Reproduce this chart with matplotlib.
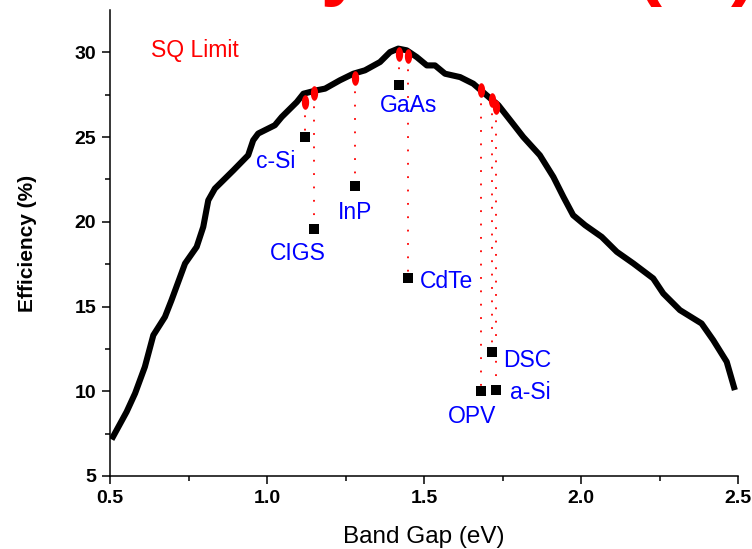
import numpy as np
import matplotlib
matplotlib.use("Agg")
import matplotlib.pyplot as plt
from matplotlib.path import Path

plt.rcParams['font.family'] = ['Liberation Sans', 'DejaVu Sans']

# Shockley-Queisser limit vs band gap
gap_curve = [0.505, 0.553, 0.580, 0.611, 0.638, 0.675, 0.696, 0.739, 0.776, 0.797,
             0.813, 0.834, 0.893, 0.940, 0.956, 0.972, 1.025, 1.047, 1.095, 1.116,
             1.158, 1.185, 1.232, 1.275, 1.312, 1.360, 1.392, 1.418, 1.445, 1.477,
             1.509, 1.535, 1.567, 1.615, 1.657, 1.700, 1.737, 1.779, 1.816, 1.869,
             1.912, 1.944, 1.975, 2.013, 2.066, 2.114, 2.167, 2.230, 2.262, 2.315,
             2.384, 2.421, 2.464, 2.490]
sq_curve = [7.16, 8.79, 9.88, 11.44, 13.31, 14.39, 15.38, 17.54, 18.52, 19.70,
            21.27, 21.96, 23.04, 23.93, 24.81, 25.21, 25.70, 26.19, 27.07, 27.56,
            27.76, 27.86, 28.35, 28.74, 28.94, 29.43, 30.02, 30.22, 30.12, 29.72,
            29.23, 29.23, 28.74, 28.54, 28.15, 27.46, 26.88, 25.89, 25.01, 23.93,
            22.65, 21.47, 20.39, 19.80, 19.11, 18.23, 17.54, 16.66, 15.77, 14.79,
            14.00, 13.02, 11.74, 10.07]

# Record cells
materials = ['c-Si', 'CIGS', 'InP', 'GaAs', 'CdTe', 'OPV', 'DSC', 'a-Si']
mat_gap = [1.12, 1.15, 1.28, 1.42, 1.45, 1.68, 1.715, 1.73]
mat_sq = [27.1, 27.6, 28.5, 29.9, 29.8, 27.8, 27.2, 26.8]
mat_eff = [25.0, 19.6, 22.1, 28.1, 16.7, 10.0, 12.3, 10.1]

# label anchors (left edge, baseline) in data units
label_pos = {
    'c-Si': (0.965, 23.16),
    'CIGS': (1.010, 17.74),
    'InP': (1.227, 20.19),
    'GaAs': (1.360, 26.48),
    'CdTe': (1.487, 16.07),
    'OPV': (1.575, 8.11),
    'DSC': (1.752, 11.44),
    'a-Si': (1.774, 9.52),
}

fig = plt.figure(figsize=(7.52, 5.49), dpi=100)
ax = fig.add_axes([110 / 752, 73 / 549, 628 / 752, 466 / 549])

# tall ellipse marker
t = np.linspace(0, 2 * np.pi, 60)
ellipse = Path(np.column_stack([0.5 * np.cos(t), np.sin(t)]), closed=True)

for g, s, e in zip(mat_gap, mat_sq, mat_eff):
    ax.plot([g, g], [s, e], color='red', lw=1.3, linestyle=(0, (1, 6.4)),
            dash_capstyle='butt', zorder=2)

ax.plot(gap_curve, sq_curve, color='black', lw=4.4, solid_joinstyle='round',
        solid_capstyle='butt', zorder=3)
ax.plot(mat_gap, mat_sq, linestyle='none', marker=ellipse, markersize=10.5,
        color='red', markeredgewidth=0, zorder=4)
ax.plot(mat_gap, mat_eff, linestyle='none', marker='s', markersize=6.8,
        color='black', markeredgewidth=0, zorder=4)

for name in materials:
    x, y = label_pos[name]
    ax.text(x, y, name, color='blue', fontsize=16.5, ha='left', va='baseline')

ax.text(0.631, 29.7, 'SQ Limit', color='red', fontsize=16.5, ha='left', va='baseline')

ax.set_xlim(0.5, 2.5)
ax.set_ylim(5, 32.5)
ax.set_xticks([0.5, 1.0, 1.5, 2.0, 2.5])
ax.set_xticklabels(['0.5', '1.0', '1.5', '2.0', '2.5'])
ax.set_yticks([5, 10, 15, 20, 25, 30])
ax.set_xticks(np.arange(0.75, 2.5, 0.5), minor=True)
ax.set_yticks(np.arange(7.5, 32.5, 5), minor=True)

for side in ('top', 'right'):
    ax.spines[side].set_visible(False)
for side in ('left', 'bottom'):
    ax.spines[side].set_linewidth(1.1)

ax.tick_params(which='major', direction='out', length=6, width=1.1,
               labelsize=14, pad=4)
ax.tick_params(which='minor', direction='out', length=3.5, width=1.1)
for lab in ax.get_xticklabels() + ax.get_yticklabels():
    lab.set_fontweight('bold')

ax.set_xlabel('Band Gap (eV)', fontsize=17.5, labelpad=14)
ax.set_ylabel('Efficiency (%)', fontsize=15, fontweight='bold', labelpad=27)

fig.text(-3 / 752, 558 / 549, 'Efficiency Limits (%)', color='red',
         fontsize=56, fontweight='bold', ha='left', va='baseline')

fig.savefig('out.png', dpi=100)
